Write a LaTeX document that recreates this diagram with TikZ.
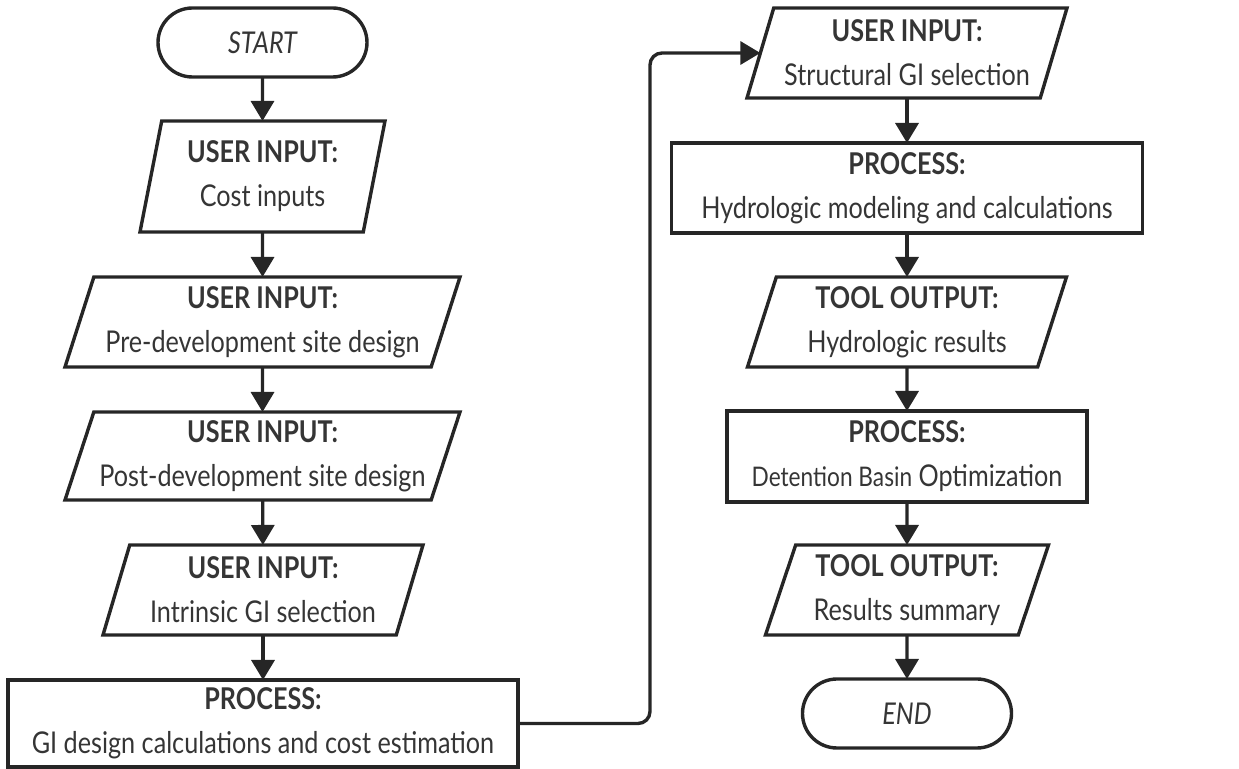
\documentclass[tikz,border=0pt]{standalone}
\usepackage{fontspec}
\setmainfont{Lato}[FakeStretch=0.84]
\usetikzlibrary{shapes.geometric,shapes.misc,arrows.meta}
\definecolor{linec}{HTML}{262626}
\definecolor{textc}{HTML}{353535}
\tikzset{
  base/.style={draw=linec, line width=1.7pt, text=textc, align=center,
    inner sep=0pt, outer sep=0pt, font=\fontsize{15}{22}\selectfont},
  iobox/.style 2 args={base, trapezium, trapezium left angle=#1,
    trapezium right angle=#2, trapezium stretches body},
  procbox/.style={base, rectangle},
  termbox/.style={base, rounded rectangle, font=\fontsize{15}{22}\selectfont\itshape},
  arr/.style={draw=linec, line width=1.7pt, -{Triangle[width=11.5pt,length=10pt]}},
}
\newcommand{\hd}[1]{\textbf{#1}}
\begin{document}
\begin{tikzpicture}[x=0.5pt,y=-0.5pt]
\path[use as bounding box] (0,0) rectangle (1239,769);
% left column
\node[termbox, minimum width=104.5pt, minimum height=34.5pt] (start) at (262.5,42.5) {START};
\node[iobox={73}{107}, minimum width=122.5pt, minimum height=55.5pt] (in1) at (262.5,176.5) {\hd{USER INPUT:}\\Cost inputs};
\node[iobox={68}{112}, minimum width=197.5pt, minimum height=45pt] (in2) at (262.5,322) {\hd{USER INPUT:}\\Pre-development site design};
\node[iobox={68}{112}, minimum width=197.5pt, minimum height=44pt] (in3) at (262.5,456) {\hd{USER INPUT:}\\Post-development site design};
\node[iobox={68}{112}, minimum width=160pt, minimum height=45pt] (in4) at (263,590) {\hd{USER INPUT:}\\Intrinsic GI selection};
\node[procbox, minimum width=255pt, minimum height=43.5pt] (p1) at (263,723.5) {\hd{PROCESS:}\\GI design calculations and cost estimation};
% right column
\node[iobox={68}{112}, minimum width=160pt, minimum height=45pt] (in5) at (907,53) {\hd{USER INPUT:}\\Structural GI selection};
\node[procbox, minimum width=235.5pt, minimum height=45pt] (p2) at (907,188) {\hd{PROCESS:}\\Hydrologic modeling and calculations};
\node[iobox={68}{112}, minimum width=159.5pt, minimum height=45pt] (o1) at (907,322) {\hd{TOOL OUTPUT:}\\Hydrologic results};
\node[procbox, minimum width=180pt, minimum height=45.5pt] (p3) at (907,456.5) {\hd{PROCESS:}\\{\fontsize{13.5}{22}\selectfont Detention Basin} Optimization};
\node[iobox={67}{113}, minimum width=141.5pt, minimum height=45pt] (o2) at (907,590) {\hd{TOOL OUTPUT:}\\Results summary};
\node[termbox, minimum width=104.5pt, minimum height=34.5pt] (end) at (907,713.5) {END};
% connectors
\draw[arr] (start) -- (in1);
\draw[arr] (in1) -- (in2);
\draw[arr] (in2) -- (in3);
\draw[arr] (in3) -- (in4);
\draw[arr] (in4) -- (p1);
\coordinate (c1) at (650,723.5);
\coordinate (c2) at (650,53);
\draw[arr, rounded corners=6pt] (p1.east) -- (c1) -- (c2) -- (in5);
\draw[arr] (in5) -- (p2);
\draw[arr] (p2) -- (o1);
\draw[arr] (o1) -- (p3);
\draw[arr] (p3) -- (o2);
\draw[arr] (o2) -- (end);
\end{tikzpicture}
\end{document}
